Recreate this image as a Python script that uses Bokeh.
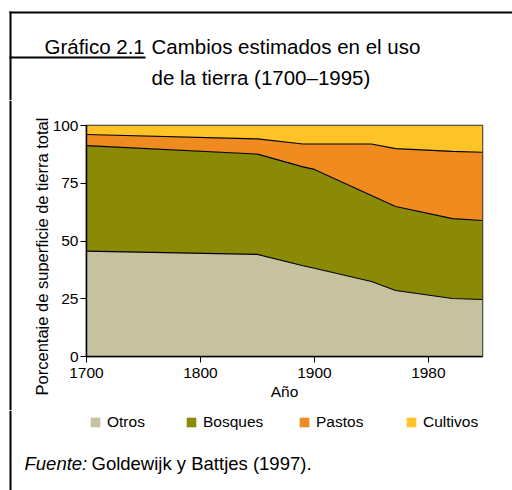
import numpy as np
from bokeh.plotting import figure
from bokeh.layouts import column, row
from bokeh.models import (Range1d, Legend, LegendItem, FixedTicker, ColumnDataSource)
from bokeh.core.properties import value
from bokeh.embed import file_html
from bokeh.resources import INLINE

# ---- data ----
years = [1700, 1850, 1890, 1900, 1940, 1957, 1997, 2018]
otros = [45.6, 44.2, 39.3, 38.2, 32.5, 28.6, 25.1, 24.7]
bosques = [45.7, 43.4, 42.8, 42.8, 37.2, 36.3, 34.6, 34.2]
pastos = [4.8, 6.6, 9.9, 11.0, 22.3, 25.1, 29.1, 29.5]
cultivos = [3.9, 5.8, 8.0, 8.0, 8.0, 10.0, 11.2, 11.6]
series_names = ["Otros", "Bosques", "Pastos", "Cultivos"]
colors = ["#C6C29F", "#8A8A07", "#EF8B1F", "#FEC427"]

tick_years = [1700, 1800, 1900, 1980]
y_ticks = [0, 25, 50, 75, 100]

title_left = "Gráfico 2.1"
title_l1 = "Cambios estimados en el uso"
title_l2 = "de la tierra (1700–1995)"
x_label = "Año"
y_label = "Porcentaje de superficie de tierra total"
src_lead = "Fuente:"
src_text = "Goldewijk y Battjes (1997)."

FONT = "Liberation Sans"
PAGE_W = 512
HEAD_H, MID_H, FOOT_H = 100, 310, 80
STRIP_W = 49


# The original's year axis is not linear: ticks are equally spaced.
def xpos(yrs):
    yrs = np.asarray(yrs, float)
    idx = np.interp(yrs, tick_years, np.arange(len(tick_years)))
    return np.where(yrs > tick_years[-1],
                    len(tick_years) - 1 + (yrs - tick_years[-1]) / (tick_years[-1] - tick_years[-2]),
                    idx)


def deco(w, h):
    f = figure(width=w, height=h, x_range=Range1d(0, w), y_range=Range1d(h, 0),
               x_axis_type=None, y_axis_type=None, output_backend="svg",
               toolbar_location=None, min_border=0)
    f.frame_align = False
    f.outline_line_color = None
    f.background_fill_color = "white"
    f.border_fill_color = "white"
    return f


def rule(f, l, r, t, b):
    f.quad(left=[l], right=[r], top=[t], bottom=[b], fill_color="black", line_color=None)


def txt(f, t, x, y, size, style="normal", align="left", baseline="alphabetic", angle=0.0):
    f.text(x=[x], y=[y], text=[t], text_font=value(FONT), text_font_size=value(size),
           text_font_style=style, text_align=align, text_baseline=baseline,
           angle=angle, text_color="black")


# ---------- header ----------
head = deco(PAGE_W, HEAD_H)
rule(head, 9, PAGE_W, 11, 13)
rule(head, 9, 11, 11, HEAD_H)
rule(head, 9, 145, 56, 58)
txt(head, title_left, 44, 46, "20.5px")
txt(head, title_l1, 151, 46, "20.5px")
txt(head, title_l2, 151, 77, "20.5px")

# ---------- left strip with the y title ----------
strip = deco(STRIP_W, MID_H)
rule(strip, 9, 11, 0, MID_H)
txt(strip, y_label, 41, 256 - HEAD_H, "16.5px", align="center", baseline="middle", angle=np.pi / 2)

# ---------- main chart ----------
x = xpos(years)
src = ColumnDataSource(dict(x=x, Otros=otros, Bosques=bosques, Pastos=pastos, Cultivos=cultivos))
MAIN_W = PAGE_W - STRIP_W
FL, FR, FT, FB = 84 - STRIP_W, 482 - STRIP_W, 125 - HEAD_H, 356 - HEAD_H

p = figure(width=MAIN_W, height=MID_H, x_range=Range1d(0, float(x[-1])), y_range=Range1d(0, 100),
           output_backend="svg", toolbar_location=None,
           min_border_left=FL, min_border_right=MAIN_W - FR,
           min_border_top=FT, min_border_bottom=MID_H - FB)
p.frame_align = False
p.xgrid.visible = False
p.ygrid.visible = False
p.outline_line_color = "#333333"
p.outline_line_width = 1.5
p.background_fill_color = "white"
p.border_fill_color = "white"

rs = p.varea_stack(stackers=series_names, x="x", color=colors, source=src)

cum = np.cumsum(np.array([otros, bosques, pastos]), axis=0)
for r in cum:
    p.line(x, r, line_color="black", line_width=1.1)

for ax in (p.xaxis[0], p.yaxis[0]):
    ax.axis_line_color = "black"
    ax.axis_line_width = 1.5
    ax.major_tick_line_color = "black"
    ax.major_tick_line_width = 1
    ax.major_tick_in = 0
    ax.major_tick_out = 6
    ax.minor_tick_line_color = None
    ax.major_label_text_font = FONT
    ax.major_label_text_font_size = "15.5px"
    ax.major_label_text_color = "black"

p.xaxis.ticker = FixedTicker(ticks=list(range(len(tick_years))))
p.xaxis.major_label_overrides = {i: str(t) for i, t in enumerate(tick_years)}
p.xaxis.major_label_standoff = 5
p.xaxis.axis_label = x_label
p.xaxis.axis_label_text_font = FONT
p.xaxis.axis_label_text_font_size = "15.5px"
p.xaxis.axis_label_text_font_style = "normal"
p.xaxis.axis_label_text_color = "black"
p.xaxis.axis_label_standoff = 2

p.yaxis.ticker = FixedTicker(ticks=y_ticks)
p.yaxis.major_label_standoff = 2

# ---------- footer: legend and source ----------
foot = deco(PAGE_W, FOOT_H)
rule(foot, 9, 11, 0, FOOT_H)
leg_x = [89, 185, 298, 405]
for name, c, lx in zip(series_names, colors, leg_x):
    # swatch-only renderer (its single box has no position, so only the legend shows it)
    rr = foot.quad(left=np.array([np.nan]), right=np.array([np.nan]),
                   top=np.array([np.nan]), bottom=np.array([np.nan]),
                   fill_color=c, line_color=None)
    lg = Legend(items=[LegendItem(label=name, renderers=[rr])], location=(lx, FOOT_H - 21),
                orientation="horizontal", glyph_width=12, glyph_height=12, label_standoff=6,
                padding=0, margin=0, spacing=0, border_line_color=None,
                background_fill_alpha=0, label_text_font=FONT, label_height=12,
                label_text_font_size="15.5px", label_text_color="black")
    foot.add_layout(lg)

txt(foot, src_lead, 24, 463 - HEAD_H - MID_H, "18.5px", style="italic")
txt(foot, src_text, 91, 463 - HEAD_H - MID_H, "18.5px")

layout = column(head, row(strip, p, spacing=0), foot, spacing=0)
open("out.html", "w").write(file_html(layout, INLINE))
